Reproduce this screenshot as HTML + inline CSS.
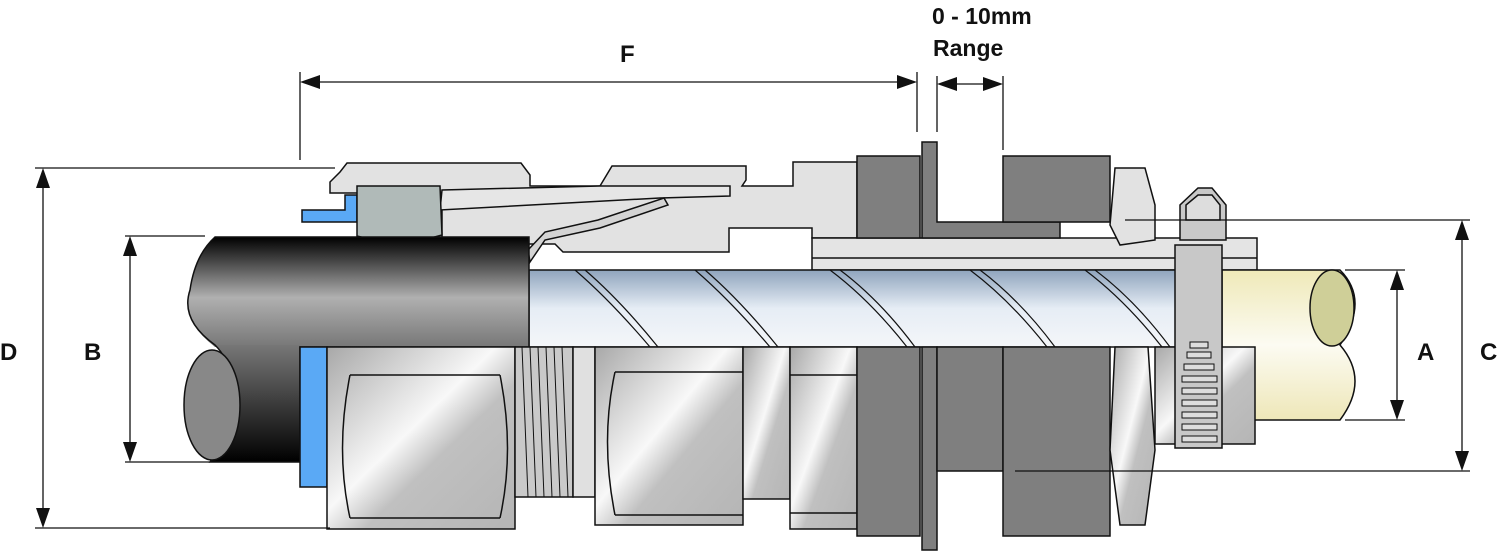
<!DOCTYPE html>
<html><head><meta charset="utf-8"><style>
html,body{margin:0;padding:0;background:#fff;}
svg{display:block;}
text{font-family:"Liberation Sans",sans-serif;font-weight:bold;fill:#111;}
</style></head><body>
<svg width="1500" height="552" viewBox="0 0 1500 552" xmlns="http://www.w3.org/2000/svg">
<defs>
<linearGradient id="blk" x1="0" y1="0" x2="0" y2="1">
<stop offset="0" stop-color="#000"/><stop offset="0.55" stop-color="#b0b0b0"/><stop offset="1" stop-color="#777"/></linearGradient>
<linearGradient id="blk2" x1="0" y1="0" x2="0" y2="1">
<stop offset="0" stop-color="#777"/><stop offset="1" stop-color="#000"/></linearGradient>
<linearGradient id="arm" x1="0" y1="0" x2="0" y2="1">
<stop offset="0" stop-color="#8fa4bd"/><stop offset="0.5" stop-color="#e6edf5"/><stop offset="1" stop-color="#f4f6f9"/></linearGradient>
<linearGradient id="met" x1="0" y1="0" x2="1" y2="1">
<stop offset="0" stop-color="#a8a8a8"/><stop offset="0.45" stop-color="#f8f8f8"/><stop offset="0.6" stop-color="#c0c0c0"/><stop offset="1" stop-color="#b5b5b5"/></linearGradient>
<linearGradient id="cream" x1="0" y1="0" x2="0" y2="1">
<stop offset="0" stop-color="#efe9b8"/><stop offset="0.5" stop-color="#fcfbf2"/><stop offset="1" stop-color="#eee7b8"/></linearGradient>
</defs>
<g stroke="#111" stroke-width="1.5">
<path d="M330,193 L330,182 L340,172 L347,163 L521,163 L530,175 L530,186 L600,186 L612,166 L746,166 L746,180 L742,186 L793,186 L793,162 L857,162 L857,238 L812,238 L812,228 L729,228 L729,252 L563,252 L555,244 L442,244 L442,193 Z" fill="#e2e2e2"/>
<path d="M442,190 L600,186 L730,186 L730,196 L660,198 L440,210 Z" fill="#e6e6e6"/>
<path d="M530,262 L545,240 L600,228 L668,205 L664,198 L598,220 L545,232 L528,250 Z" fill="#d4d4d4"/>
<path d="M302,222 L302,210 L345,210 L345,195 L357,195 L357,222 Z" fill="#5aa9f5"/>
<path d="M357,186 L440,186 L442,235 Q400,248 357,236 Z" fill="#b0bab8"/>
<rect x="812" y="238" width="445" height="32" fill="#e4e4e4"/>
<line x1="812" y1="258" x2="1257" y2="258"/>
<rect x="529" y="270" width="660" height="77" fill="url(#arm)"/>
<g fill="none" stroke-width="1.2">
<path d="M575,270 Q610,300 650,347"/><path d="M585,270 Q620,300 658,347"/>
<path d="M695,270 Q730,300 770,347"/><path d="M705,270 Q740,300 778,347"/>
<path d="M830,270 Q870,300 907,347"/><path d="M840,270 Q880,300 915,347"/>
<path d="M970,270 Q1010,300 1047,347"/><path d="M980,270 Q1020,300 1055,347"/>
<path d="M1085,270 Q1125,300 1162,347"/><path d="M1095,270 Q1135,300 1170,347"/>
</g>
<path d="M1222,270 L1340,270 Q1370,300 1340,345 Q1370,380 1340,420 L1222,420 Z" fill="url(#cream)"/>
<ellipse cx="1332" cy="308" rx="22" ry="38" fill="#cfcf98"/>
<path d="M215,237 L529,237 L529,347 L215,347 Q180,320 190,290 Q195,255 215,237 Z" fill="url(#blk)" stroke="none"/>
<path d="M215,345 L300,345 L300,462 L210,462 Q240,420 215,400 Q240,370 215,345 Z" fill="url(#blk2)" stroke="none"/>
<path d="M215,237 L529,237 L529,347 L300,347 L300,462 L210,462 Q240,420 215,400 Q240,370 215,345 Q180,320 190,290 Q195,255 215,237 Z" fill="none"/>
<ellipse cx="212" cy="405" rx="28" ry="55" fill="#888"/>
<rect x="300" y="347" width="27" height="140" fill="#5aa9f5"/>
<rect x="327" y="347" width="188" height="182" fill="url(#met)"/>
<line x1="350" y1="375" x2="500" y2="375"/><line x1="350" y1="518" x2="500" y2="518"/>
<path d="M350,375 Q335,450 350,518 M500,375 Q515,450 500,518" fill="none"/>
<rect x="515" y="347" width="58" height="150" fill="#c9c9c9"/>
<g stroke-width="1"><path d="M522,347 L528,497 M530,347 L536,497 M538,347 L544,497 M546,347 L552,497 M554,347 L560,497 M562,347 L568,497" fill="none"/></g>
<rect x="573" y="347" width="22" height="150" fill="#e0e0e0"/>
<rect x="595" y="347" width="148" height="178" fill="url(#met)"/>
<line x1="615" y1="372" x2="743" y2="372"/><line x1="615" y1="515" x2="743" y2="515"/>
<path d="M615,372 Q600,440 615,515" fill="none"/>
<rect x="743" y="347" width="47" height="152" fill="url(#met)"/>
<rect x="790" y="347" width="67" height="182" fill="url(#met)"/>
<line x1="790" y1="375" x2="857" y2="375"/><line x1="790" y1="513" x2="857" y2="513"/>
<rect x="857" y="156" width="63" height="82" fill="#7f7f7f"/>
<path d="M922,142 L937,142 L937,222 L1060,222 L1060,238 L922,238 Z" fill="#7f7f7f"/>
<rect x="1003" y="156" width="107" height="66" fill="#7f7f7f"/>
<rect x="857" y="347" width="63" height="189" fill="#7f7f7f"/>
<rect x="922" y="347" width="15" height="203" fill="#7f7f7f"/>
<rect x="937" y="347" width="66" height="124" fill="#7f7f7f"/>
<rect x="1003" y="347" width="107" height="189" fill="#7f7f7f"/>
<path d="M1115,168 L1145,168 L1155,205 L1155,240 L1120,245 L1110,225 Z" fill="#e2e2e2"/>
<path d="M1115,347 L1148,347 L1155,450 L1145,525 L1120,525 L1110,450 Z" fill="url(#met)"/>
<rect x="1155" y="347" width="100" height="97" fill="url(#met)"/>
<rect x="1175" y="245" width="47" height="203" fill="#c8c8c8"/>
<path d="M1180,240 L1180,205 L1198,188 L1212,188 L1226,205 L1226,240 Z" fill="#c8c8c8"/>
<path d="M1186,220 L1186,205 L1198,195 L1212,195 L1220,205 L1220,220 Z" fill="#ddd"/>
<g fill="#ddd" stroke-width="1"><rect x="1190" y="342" width="18" height="6"/><rect x="1187" y="352" width="24" height="6"/><rect x="1184" y="364" width="30" height="6"/><rect x="1182" y="376" width="35" height="6"/><rect x="1182" y="388" width="35" height="6"/><rect x="1182" y="400" width="35" height="6"/><rect x="1182" y="412" width="35" height="6"/><rect x="1182" y="424" width="35" height="6"/><rect x="1182" y="436" width="35" height="6"/></g>
</g>
<g stroke="#111" stroke-width="1.3" fill="none">
<line x1="35" y1="168" x2="335" y2="168"/><line x1="35" y1="528" x2="330" y2="528"/>
<line x1="125" y1="236" x2="205" y2="236"/><line x1="125" y1="462" x2="210" y2="462"/>
<line x1="1125" y1="220" x2="1470" y2="220"/><line x1="1015" y1="471" x2="1470" y2="471"/>
<line x1="1345" y1="270" x2="1405" y2="270"/><line x1="1345" y1="420" x2="1405" y2="420"/>
<line x1="43" y1="180" x2="43" y2="516"/><line x1="130" y1="248" x2="130" y2="450"/>
<line x1="1397" y1="282" x2="1397" y2="408"/><line x1="1462" y1="232" x2="1462" y2="459"/>
<line x1="300" y1="72" x2="300" y2="160"/><line x1="917" y1="72" x2="917" y2="132"/>
<line x1="937" y1="76" x2="937" y2="132"/><line x1="1003" y1="76" x2="1003" y2="150"/>
<line x1="312" y1="82" x2="905" y2="82"/><line x1="949" y1="84" x2="991" y2="84"/>
</g>
<g fill="#111">
<path d="M43,168 L36,188 L50,188 Z"/><path d="M43,528 L36,508 L50,508 Z"/>
<path d="M130,236 L123,256 L137,256 Z"/><path d="M130,462 L123,442 L137,442 Z"/>
<path d="M1397,270 L1390,290 L1404,290 Z"/><path d="M1397,420 L1390,400 L1404,400 Z"/>
<path d="M1462,220 L1455,240 L1469,240 Z"/><path d="M1462,471 L1455,451 L1469,451 Z"/>
<path d="M300,82 L320,75 L320,89 Z"/><path d="M917,82 L897,75 L897,89 Z"/>
<path d="M937,84 L957,77 L957,91 Z"/><path d="M1003,84 L983,77 L983,91 Z"/>
</g>
<text x="0" y="360" font-size="24">D</text>
<text x="84" y="360" font-size="24">B</text>
<text x="1417" y="360" font-size="24">A</text>
<text x="1480" y="360" font-size="24">C</text>
<text x="620" y="62" font-size="24">F</text>
<text x="932" y="24" font-size="23">0 - 10mm</text>
<text x="933" y="56" font-size="23">Range</text>
</svg>
</body></html>
